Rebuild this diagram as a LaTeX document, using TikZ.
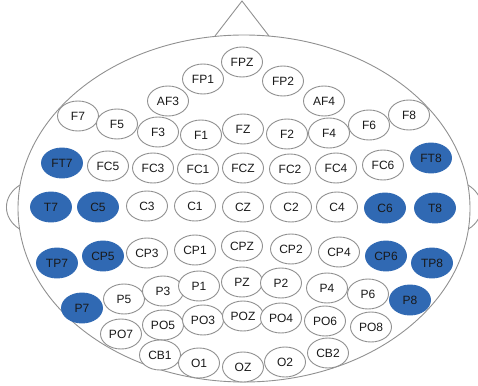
\documentclass[tikz,border=0pt]{standalone}
\usepackage{fontspec}
\setmainfont{Liberation Sans}
\definecolor{elecblue}{RGB}{48,105,179}
\definecolor{headgray}{RGB}{145,145,145}
\definecolor{textgray}{RGB}{25,25,25}
\tikzset{every picture/.style={line width=0.75pt}}
\tikzset{
  elec/.style={ellipse,draw=headgray,fill=white,minimum width=41pt,minimum height=30pt,inner sep=0pt,line width=0.9pt,text=textgray,font=\fontsize{12}{13}\selectfont},
  elecon/.style={elec,draw=elecblue,fill=elecblue},
  headline/.style={draw=headgray,line width=0.9pt}
}
\usetikzlibrary{shapes.geometric}
\begin{document}
\begin{tikzpicture}[x=1pt,y=-1pt]
	\useasboundingbox (0,0) rectangle (478,385);
	%Dau
	\draw[headline] (244,208.5) ellipse [x radius=226, y radius=173.5];
	%Mui
	\coordinate (noseL) at (215,36);
	\coordinate (noseT) at (242,1);
	\coordinate (noseR) at (269,36);
	\draw[headline] (noseL) -- (noseT) -- (noseR);
	%Tai
	\coordinate (earLa) at (20,185);
	\coordinate (earLb) at (19.5,229);
	\coordinate (earRa) at (468,185);
	\coordinate (earRb) at (468.5,229);
	\draw[headline] (earLa) .. controls (2,196) and (2,218) .. (earLb);
	\draw[headline] (earRa) .. controls (486,196) and (486,218) .. (earRb);
	%Hang FP
	\node[elec] (FPZ) at (242,62) {FPZ};
	\node[elec] (FP1) at (203,79) {FP1};
	\node[elec] (FP2) at (283,81) {FP2};
	%Hang AF
	\node[elec] (AF3) at (168,101) {AF3};
	\node[elec] (AF4) at (324,101) {AF4};
	%Hang F
	\node[elec] (F7) at (78,116) {F7};
	\node[elec] (F5) at (117,124) {F5};
	\node[elec] (F3) at (158,132) {F3};
	\node[elec] (F1) at (201,135) {F1};
	\node[elec] (FZ) at (243,129) {FZ};
	\node[elec] (F2) at (287,134) {F2};
	\node[elec] (F4) at (329,133) {F4};
	\node[elec] (F6) at (369,125) {F6};
	\node[elec] (F8) at (409,115) {F8};
	%Hang FC
	\node[elecon] (FT7) at (62,163) {FT7};
	\node[elec] (FC5) at (108,166) {FC5};
	\node[elec] (FC3) at (153,168) {FC3};
	\node[elec] (FC1) at (198,169) {FC1};
	\node[elec] (FCZ) at (243,168) {FCZ};
	\node[elec] (FC2) at (290,169) {FC2};
	\node[elec] (FC4) at (336,168) {FC4};
	\node[elec] (FC6) at (383,165) {FC6};
	\node[elecon] (FT8) at (431,158) {FT8};
	%Hang C
	\node[elecon] (T7) at (51,207) {T7};
	\node[elecon] (C5) at (98,207) {C5};
	\node[elec] (C3) at (147,206) {C3};
	\node[elec] (C1) at (195,206) {C1};
	\node[elec] (CZ) at (243,207) {CZ};
	\node[elec] (C2) at (291,207) {C2};
	\node[elec] (C4) at (337,207) {C4};
	\node[elecon] (C6) at (385,208) {C6};
	\node[elecon] (T8) at (435,208) {T8};
	%Hang CP
	\node[elecon] (TP7) at (57,263) {TP7};
	\node[elecon] (CP5) at (103,256) {CP5};
	\node[elec] (CP3) at (147,253) {CP3};
	\node[elec] (CP1) at (195,250) {CP1};
	\node[elec] (CPZ) at (242,246) {CPZ};
	\node[elec] (CP2) at (291,249) {CP2};
	\node[elec] (CP4) at (339,252) {CP4};
	\node[elecon] (CP6) at (386,256) {CP6};
	\node[elecon] (TP8) at (432,263) {TP8};
	%Hang P
	\node[elecon] (P7) at (82,308) {P7};
	\node[elec] (P5) at (124,299) {P5};
	\node[elec] (P3) at (163,291) {P3};
	\node[elec] (P1) at (199,286) {P1};
	\node[elec] (PZ) at (242,282) {PZ};
	\node[elec] (P2) at (281,283) {P2};
	\node[elec] (P4) at (327,288) {P4};
	\node[elec] (P6) at (368,294) {P6};
	\node[elecon] (P8) at (410,300) {P8};
	%Hang PO
	\node[elec] (PO7) at (121,334) {PO7};
	\node[elec] (PO5) at (163,325) {PO5};
	\node[elec] (PO3) at (203,320) {PO3};
	\node[elec] (POZ) at (243,316) {POZ};
	\node[elec] (PO4) at (281,318) {PO4};
	\node[elec] (PO6) at (325,321) {PO6};
	\node[elec] (PO8) at (371,327) {PO8};
	%Hang O
	\node[elec] (CB1) at (160,355) {CB1};
	\node[elec] (O1) at (199,363) {O1};
	\node[elec] (OZ) at (243,367) {OZ};
	\node[elec] (O2) at (285,362) {O2};
	\node[elec] (CB2) at (328,353) {CB2};
\end{tikzpicture}
\end{document}
